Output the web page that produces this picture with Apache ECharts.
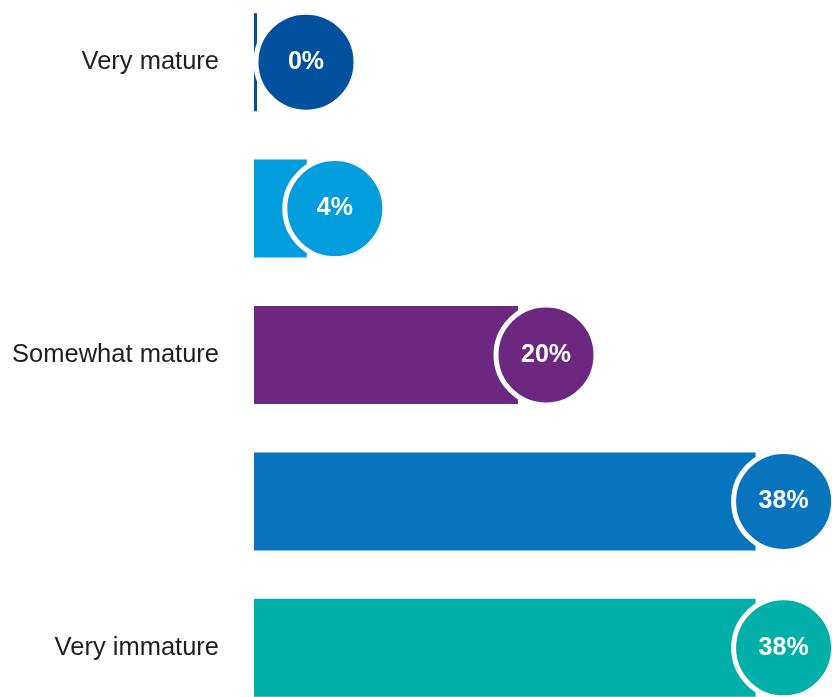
<!DOCTYPE html>
<html>
<head>
<meta charset="utf-8">
<script src="https://cdn.jsdelivr.net/npm/echarts@6/dist/echarts.min.js"></script>
<style>
  html, body { margin: 0; padding: 0; background: #fff; }
  #main { width: 832px; height: 697px; }
</style>
</head>
<body>
<div id="main"></div>
<script>
// maturity scale, top to bottom
const levels = ["Very mature", "Mature", "Somewhat mature", "Immature", "Very immature"];
const tickLabels = ["Very mature", "", "Somewhat mature", "", "Very immature"];
const shares = [0, 4, 20, 38, 38];
const colors = ["#02509e", "#029ddc", "#6c2780", "#0774bd", "#00afa7"];

const chart = echarts.init(document.getElementById("main"));

const option = {
  animation: false,
  grid: {
    left: 254, right: 50, top: -11, bottom: -24,
    containLabel: false,
    outerBoundsMode: "none"
  },
  xAxis: {
    type: "value",
    min: 0,
    max: 40,
    show: false
  },
  yAxis: {
    type: "category",
    data: levels,
    inverse: true,
    axisLine: { show: false },
    axisTick: { show: false },
    axisLabel: {
      margin: 35,
      color: "#1e1e1e",
      fontSize: 25.5,
      fontFamily: "Liberation Sans, Arial, sans-serif",
      formatter: (val, idx) => tickLabels[idx]
    }
  },
  series: [
    {
      type: "bar",
      data: shares,
      barWidth: 98,
      barMinHeight: 3,
      itemStyle: {
        color: (p) => colors[p.dataIndex]
      }
    },
    {
      // 圆形百分比标记
      type: "custom",
      clip: false,
      data: shares.map((v, i) => [v, i]),
      encode: { x: 0, y: 1 },
      z: 3,
      renderItem: (params, api) => {
        const idx = api.value(1);
        const end = api.coord([api.value(0), idx]);
        const x0 = api.coord([0, idx])[0];
        const cx = Math.max(end[0] + 28, x0 + 52);
        const cy = end[1];
        return {
          type: "group",
          children: [
            {
              type: "circle",
              shape: { cx: cx, cy: cy, r: 50 },
              style: { fill: colors[idx], stroke: "#fff", lineWidth: 5 }
            },
            {
              type: "text",
              style: {
                text: api.value(0) + "%",
                x: cx,
                y: cy,
                align: "center",
                verticalAlign: "middle",
                fill: "#fff",
                fontSize: 25,
                fontWeight: "bold",
                fontFamily: "Liberation Sans, Arial, sans-serif"
              }
            }
          ]
        };
      }
    }
  ]
};

chart.setOption(option);
</script>
</body>
</html>
